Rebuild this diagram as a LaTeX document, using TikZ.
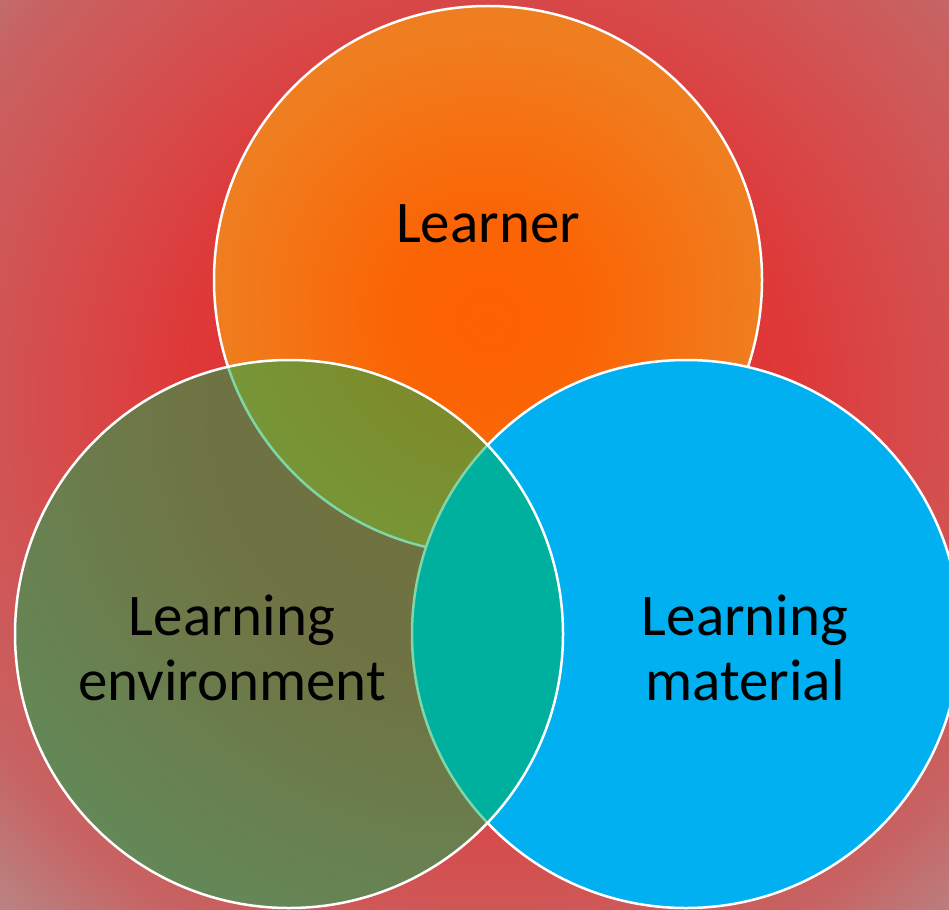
\documentclass[tikz,border=0pt]{standalone}
\usepackage{fontspec}
\setmainfont{Carlito}
\usetikzlibrary{positioning}

\definecolor{vnCore}{HTML}{E42D2D}
\definecolor{vnMid}{HTML}{DF3838}
\definecolor{vnWarm}{HTML}{D54E4E}
\definecolor{vnFade}{HTML}{C76363}
\definecolor{vnEdge}{HTML}{B78888}
\definecolor{vnLearnerCore}{HTML}{FD6000}
\definecolor{vnLearnerRim}{HTML}{EF7E20}
\definecolor{vnMaterial}{HTML}{00B0F0}
\definecolor{vnEnviron}{HTML}{00B050}

% backdrop glow and the glow inside the top ring (25bp = rim of the path)
\pgfdeclareradialshading{vnbackdrop}{\pgfpoint{0bp}{0bp}}{%
  color(0bp)=(vnCore); color(10.4bp)=(vnMid); color(15.6bp)=(vnWarm);
  color(20.8bp)=(vnFade); color(25bp)=(vnEdge); color(50bp)=(vnEdge)}
\pgfdeclareradialshading{vnlearnerglow}{\pgfpoint{0bp}{-4bp}}{%
  color(0bp)=(vnLearnerCore); color(9bp)=(vnLearnerCore!85!vnLearnerRim);
  color(25bp)=(vnLearnerRim); color(50bp)=(vnLearnerRim)}

\tikzset{
  vennring/.style={
    circle, draw=white, line width=2.5pt, minimum size=548pt, inner sep=0pt
  },
  venntext/.style={
    font=\fontsize{59}{65}\selectfont, text=black, align=center, inner sep=0pt
  }
}

\begin{document}
\begin{tikzpicture}[x=1pt, y=-1pt]
  \useasboundingbox (0,0) rectangle (949,909);
  \clip (0,0) rectangle (949,909);
  \path[shade, shading=vnbackdrop] (488,400) circle (720pt);

  % the three rings, the green one see-through on top
  \node[vennring, shade, shading=vnlearnerglow] (learner) at (488,280) {};
  \node[vennring, fill=vnMaterial] (material) at (686,634) {};
  \node[vennring, fill=vnEnviron, fill opacity=0.5, draw opacity=1] (environ) at (289,634) {};

  % labels sit on the baseline of their last line
  \node[venntext, anchor=base] (learnerlbl) at (488,242) {Learner};
  \node[venntext, anchor=base] (environlbl) at (232,700) {Learning\\environment};
  \node[venntext, anchor=base] (materiallbl) at (745,700) {Learning\\material};
\end{tikzpicture}
\end{document}
